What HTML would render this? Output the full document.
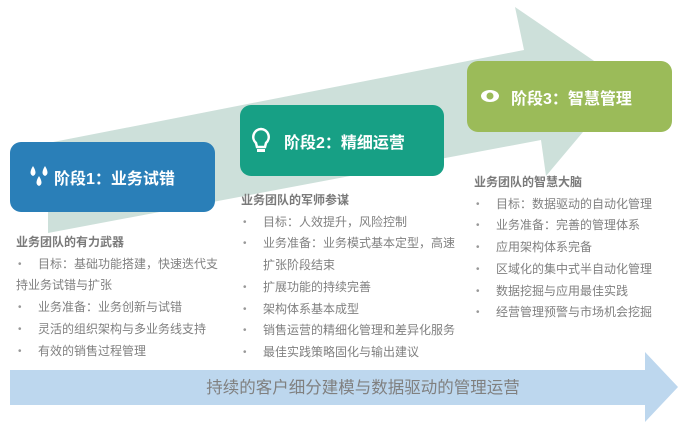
<!DOCTYPE html>
<html><head><meta charset="utf-8"><style>
body{margin:0;width:680px;height:424px;background:#fff;position:relative;overflow:hidden;font-family:"Liberation Sans","Noto Sans CJK SC",sans-serif}
.box{position:absolute;border-radius:11px;color:#fff;font-weight:bold;font-size:16px}
.box span{position:absolute;top:50%;transform:translateY(-50%)}
.col{position:absolute;color:#808080;font-size:12px;line-height:21.7px}
.col b{color:#7a7a7a}
.li{position:relative;padding-left:22px}
.li:before{content:"•";position:absolute;left:2px;font-size:10px;color:#999}
</style></head><body>
<svg width="680" height="424" style="position:absolute;left:0;top:0">
<polygon points="48,143 524,50 515,7 625,82 546,176 541,140 48,233" fill="#cde0da"/>
<polygon points="10,370 645,370 645,352 678,387 645,422 645,405 10,405" fill="#bdd7ee"/>
<text x="363" y="393" font-size="16.5" fill="#808080" text-anchor="middle" font-family="Liberation Sans,Noto Sans CJK SC,sans-serif">持续的客户细分建模与数据驱动的管理运营</text>
</svg>
<div class="box" style="left:10px;top:142px;width:205px;height:70px;background:#2a7fb8">
<svg style="position:absolute;left:19px;top:24px" width="22" height="24"><g fill="#fff"><path d="M4,0 Q-1,8 4,10 Q9,8 4,0Z"/><path d="M16,0 Q11,8 16,10 Q21,8 16,0Z"/><path d="M10,10 Q5,18 10,20 Q15,18 10,10Z"/></g></svg>
<span style="left:44px">阶段1：业务试错</span></div>
<div class="box" style="left:240px;top:105px;width:204px;height:71px;background:#17a085">
<svg style="position:absolute;left:10px;top:22px" width="22" height="30"><path d="M11,2 a8,8 0 0 1 5,14 l-1,4 h-8 l-1,-4 a8,8 0 0 1 5,-14z" fill="none" stroke="#fff" stroke-width="2.5"/><rect x="7" y="22" width="8" height="3" fill="#fff"/></svg>
<span style="left:44px">阶段2：精细运营</span></div>
<div class="box" style="left:467px;top:61px;width:205px;height:71px;background:#9bbb59">
<svg style="position:absolute;left:13px;top:27px" width="20" height="16"><ellipse cx="10" cy="8" rx="9" ry="6" fill="#fff"/><circle cx="10" cy="8" r="3.5" fill="#9bbb59"/></svg>
<span style="left:44px">阶段3：智慧管理</span></div>
<div class="col" style="left:16px;top:232px;width:205px">
<b>业务团队的有力武器</b>
<div class="li">目标：基础功能搭建，快速迭代支</div><div>持业务试错与扩张</div>
<div class="li">业务准备：业务创新与试错</div>
<div class="li">灵活的组织架构与多业务线支持</div>
<div class="li">有效的销售过程管理</div></div>
<div class="col" style="left:241px;top:190px;width:230px">
<b>业务团队的军师参谋</b>
<div class="li">目标：人效提升，风险控制</div>
<div class="li">业务准备：业务模式基本定型，高速</div><div style="padding-left:22px">扩张阶段结束</div>
<div class="li">扩展功能的持续完善</div>
<div class="li">架构体系基本成型</div>
<div class="li">销售运营的精细化管理和差异化服务</div>
<div class="li">最佳实践策略固化与输出建议</div></div>
<div class="col" style="left:474px;top:172px;width:205px">
<b>业务团队的智慧大脑</b>
<div class="li">目标：数据驱动的自动化管理</div>
<div class="li">业务准备：完善的管理体系</div>
<div class="li">应用架构体系完备</div>
<div class="li">区域化的集中式半自动化管理</div>
<div class="li">数据挖掘与应用最佳实践</div>
<div class="li">经营管理预警与市场机会挖掘</div></div>
</body></html>
